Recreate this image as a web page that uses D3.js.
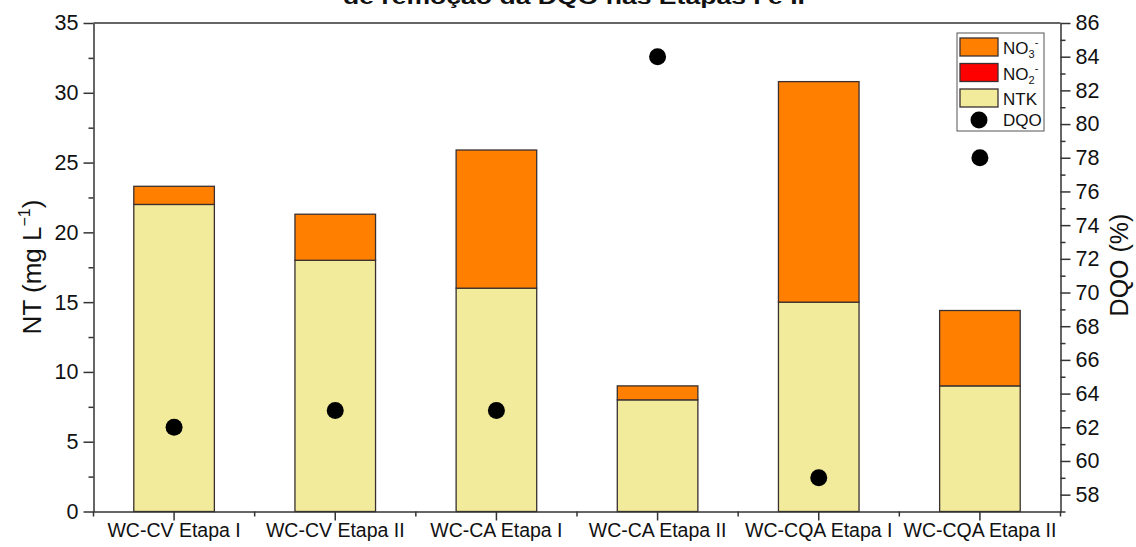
<!DOCTYPE html>
<html><head><meta charset="utf-8">
<script src="https://cdn.jsdelivr.net/npm/d3@7"></script>
<style>body{margin:0;background:#fff}svg{display:block}text{font-family:"Liberation Sans",Arial,sans-serif;fill:#111}</style>
</head><body><svg id="c" width="1136" height="547"></svg>
<script>
const categories = ["WC-CV Etapa I","WC-CV Etapa II","WC-CA Etapa I","WC-CA Etapa II","WC-CQA Etapa I","WC-CQA Etapa II"];
const ntk = [22, 18, 16, 8, 15, 9];
const no2 = [0, 0, 0, 0, 0, 0];
const no3 = [1.3, 3.3, 9.9, 1.0, 15.8, 5.4];
const dqo = [62, 63, 63, 84, 59, 78];
const leftTicks = [0,5,10,15,20,25,30,35];
const rightTicks = [58,60,62,64,66,68,70,72,74,76,78,80,82,84,86];

const svg = d3.select("#c");
const L = 93.5, R = 1060.5, T = 23, B = 511.5;
const x = d3.scaleBand().domain(categories).range([L, R]).paddingInner(0.5).paddingOuter(0.25);
const y = d3.scaleLinear().domain([0, 35]).range([B, T]);
const y2 = d3.scaleLinear().domain([57, 86]).range([B, T]);
const cs = ["#F2EB9B", "#FF0000", "#FF8000"];
const stroke = "#3a3030";

// title (clipped at top, as in the reference)
svg.append("text").attr("x", 574).attr("y", 4).attr("text-anchor", "middle")
  .attr("font-weight", "bold").attr("font-size", 21).attr("textLength", 462).attr("lengthAdjust","spacingAndGlyphs")
  .text("de remoção da DQO nas Etapas I e II");

// bars
const stacks = categories.map((c,i)=>{
  const segs=[]; let acc=0;
  [ntk[i], no2[i], no3[i]].forEach((v,k)=>{ segs.push({c, y0:acc, y1:acc+v, k}); acc+=v; });
  return segs;
}).flat().filter(s=>s.y1>s.y0);
svg.append("g").selectAll("rect").data(stacks).join("rect")
  .attr("x", d=>x(d.c)).attr("width", x.bandwidth())
  .attr("y", d=>y(d.y1)).attr("height", d=>y(d.y0)-y(d.y1))
  .attr("fill", d=>cs[d.k]).attr("stroke", stroke).attr("stroke-width", 1.3);

// frame
svg.append("line").attr("x1", L).attr("x2", R).attr("y1", T).attr("y2", T).attr("stroke", "#333").attr("stroke-width", 1.5);

// left axis
const gl = svg.append("g").attr("transform", `translate(${L},0)`);
gl.call(d3.axisLeft(y).tickValues(leftTicks).tickSize(10).tickPadding(5).tickSizeOuter(0));
gl.selectAll(".tick text").attr("font-size", 21.5).attr("font-family","Liberation Sans");
const glm = svg.append("g").attr("transform", `translate(${L},0)`);
glm.call(d3.axisLeft(y).tickValues(d3.range(2.5, 35, 5)).tickSize(5).tickFormat("").tickSizeOuter(0));
glm.select(".domain").remove();

// right axis
const gr = svg.append("g").attr("transform", `translate(${R},0)`);
gr.call(d3.axisRight(y2).tickValues(rightTicks).tickSize(10).tickPadding(5).tickSizeOuter(0));
gr.selectAll(".tick text").attr("font-size", 21.5).attr("font-family","Liberation Sans");
const grm = svg.append("g").attr("transform", `translate(${R},0)`);
grm.call(d3.axisRight(y2).tickValues(d3.range(57, 86, 2)).tickSize(5).tickFormat("").tickSizeOuter(0));
grm.select(".domain").remove();

// bottom axis
const gb = svg.append("g").attr("transform", `translate(0,${B})`);
gb.call(d3.axisBottom(x).tickSize(9).tickPadding(3).tickSizeOuter(0));
gb.selectAll(".tick text").attr("font-size", 19.5).attr("font-family","Liberation Sans");
const step = x.step();
const gbm = svg.append("g").attr("transform", `translate(0,${B})`);
gbm.selectAll("line").data(d3.range(7)).join("line")
  .attr("x1", i=>L + i*step).attr("x2", i=>L + i*step).attr("y1", 0).attr("y2", 5)
  .attr("stroke", "#333").attr("stroke-width", 1.5);

svg.selectAll(".domain").attr("stroke", "#333").attr("stroke-width", 1.5);
svg.selectAll(".tick line").attr("stroke", "#333").attr("stroke-width", 1.5);

// dots
svg.append("g").selectAll("circle").data(categories).join("circle")
  .attr("cx", c=>x(c)+x.bandwidth()/2).attr("cy", (c,i)=>y2(dqo[i])).attr("r", 8.5).attr("fill", "#000");

// axis titles
const lt = svg.append("text").attr("transform", `translate(41,267) rotate(-90)`).attr("text-anchor","middle")
  .attr("font-size", 26);
lt.append("tspan").text("NT (mg L");
lt.append("tspan").attr("font-size", 16).attr("dy", -11).text("−1");
lt.append("tspan").attr("dy", 11).text(")");
svg.append("text").attr("transform", `translate(1128,265) rotate(-90)`).attr("text-anchor","middle")
  .attr("font-size", 25).text("DQO (%)");

// legend
const lg = svg.append("g");
lg.append("rect").attr("x", 957).attr("y", 33).attr("width", 87).attr("height", 98)
  .attr("fill", "#fff").attr("stroke", "#555").attr("stroke-width", 1);
const items = [{k:2, t:"NO", sub:"3", sup:"-"},{k:1,t:"NO",sub:"2",sup:"-"},{k:0,t:"NTK"}];
items.forEach((it,i)=>{
  const yy = 38 + i*25.5;
  lg.append("rect").attr("x", 960).attr("y", yy).attr("width", 38).attr("height", 18)
    .attr("fill", cs[it.k]).attr("stroke", stroke).attr("stroke-width", 1.3);
  const t = lg.append("text").attr("x", 1003).attr("y", yy+16).attr("font-size", 17).text(it.t);
  if (it.sub) {
    t.append("tspan").attr("font-size", 11).attr("dy", 4).text(it.sub);
    t.append("tspan").attr("font-size", 11).attr("dy", -12).text(it.sup);
  }
});
lg.append("circle").attr("cx", 979).attr("cy", 120).attr("r", 8.5).attr("fill", "#000");
lg.append("text").attr("x", 1003).attr("y", 126).attr("font-size", 17).text("DQO");
</script></body></html>
